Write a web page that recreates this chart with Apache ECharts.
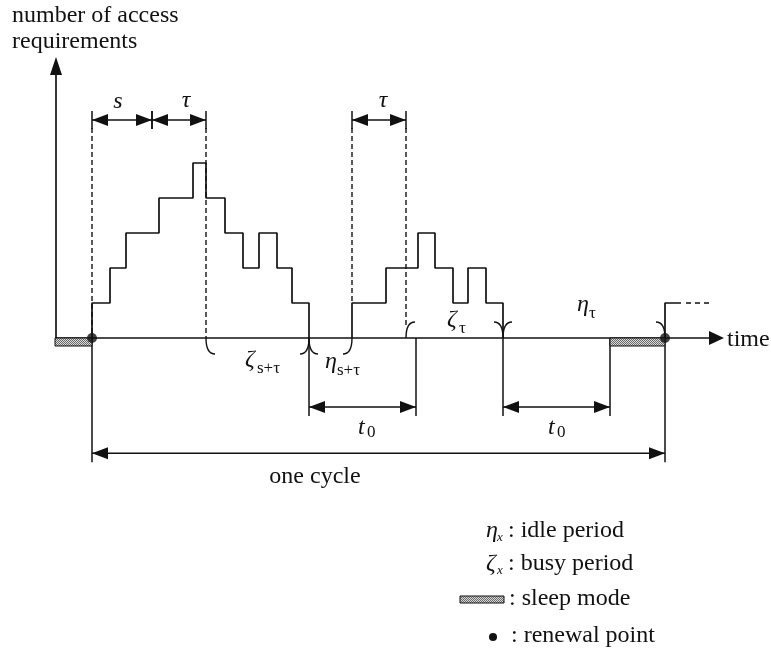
<!DOCTYPE html>
<html><head><meta charset="utf-8">
<script src="https://cdn.jsdelivr.net/npm/echarts@6.0.0/dist/echarts.min.js"></script>
<style>html,body{margin:0;padding:0;background:#fff;}#chart{width:771px;height:650px;}</style>
</head><body><div id="chart"></div>
<script>
// ---------------- data (time in arbitrary units, level = number of access requirements) ----------------
const busy1Time  = [0, 0, 18, 34, 67, 101, 114, 133, 151, 167, 185, 200, 217];
const busy1Level = [0, 1, 2, 3, 4, 5, 4, 3, 2, 3, 2, 1, 0];
const busy2Time  = [260, 260, 294, 326, 343, 361, 376, 394, 411];
const busy2Level = [0, 1, 2, 3, 2, 1, 2, 1, 0];
const nextTime   = [573, 573, 589];
const nextLevel  = [0, 1, 1];
const nextDashTime  = [594, 618];
const nextDashLevel = [1, 1];
const renewalTime = [0, 573];
const sleepStart  = [-37, 518];
const sleepEnd    = [0, 573];
const sTauMarks   = [[0, 60], [60, 114], [260, 314]];   // s, τ, τ
const t0Start     = [217, 411];
const t0End       = [324, 518];
const cycleBounds = [0, 573];
const periodStart = [114, 217, 314, 411];   // ζ_{s+τ}, η_{s+τ}, ζ_τ, η_τ
const periodEnd   = [217, 260, 411, 573];
const periodSide  = [-1, -1, 1, 1];          // -1 below axis, 1 above

// ---------------- view / annotation layout ----------------
const timeRange  = [-92, 679];
const levelRange = [-312 / 35, 338 / 35];
const AXIS_T0 = -37, AXIS_T1 = 632, YAXIS_T = -36, YAXIS_TOP = 8.03;
const DIM_LEVEL = 6.23, GUIDE_TOP = 6.0;
const T0_LEVEL = -1.97, CYCLE_LEVEL = -3.29;

const labelMain  = ['s', 'τ', 'τ', 'ζ', 'η', 'ζ', 'η', 't', 't', 'one cycle', 'time'];
const labelSub   = ['', '', '', 's+τ', 's+τ', 'τ', 'τ', '0', '0', '', ''];
const labelTime  = [26, 94, 291, 153, 233, 355, 485, 266, 456, 223, 635];
const labelLevel = [6.74, 6.77, 6.77, -0.63, -0.69, 0.51, 0.94, -2.57, -2.57, -3.97, -0.06];
const labelAlign = ['center','center','center','left','left','left','left','left','left','center','left'];

const FONT = '"Liberation Serif","Times New Roman",serif';
const INK = '#111';

// hatched pattern for sleep mode
const pat = document.createElement('canvas');
pat.width = 2; pat.height = 2;
(function(){const c = pat.getContext('2d'); c.fillStyle = '#d8d8d8'; c.fillRect(0,0,2,2); c.fillStyle = '#6a6a6a'; c.fillRect(0,0,1,1); c.fillRect(1,1,1,1);})();
const hatch = {image: pat, repeat: 'repeat'};

function seg(p, q, extra) {
  return {type: 'line', shape: {x1: p[0], y1: p[1], x2: q[0], y2: q[1]},
          style: Object.assign({stroke: INK, lineWidth: 1.5}, extra || {})};
}
function head(tip, from, len, half) {
  const dx = tip[0] - from[0], dy = tip[1] - from[1], d = Math.hypot(dx, dy);
  const ux = dx / d, uy = dy / d, bx = tip[0] - ux * len, by = tip[1] - uy * len;
  return {type: 'polygon', shape: {points: [tip, [bx - uy * half, by + ux * half], [bx + uy * half, by - ux * half]]},
          style: {fill: INK}};
}
function dblArrow(api, t1, t2, lv, ticks) {
  const a = api.coord([t1, lv]), b = api.coord([t2, lv]);
  const ch = [seg(a, b), head(a, b, 16, 6), head(b, a, 16, 6)];
  if (ticks) {
    ch.push(seg([a[0], a[1] - 9], [a[0], a[1] + 9]));
    ch.push(seg([b[0], b[1] - 9], [b[0], b[1] + 9]));
  }
  return {type: 'group', children: ch};
}

const chart = echarts.init(document.getElementById('chart'));
const stepStyle = {color: INK, width: 1.7};

chart.setOption({
  animation: false,
  backgroundColor: '#fff',
  grid: {left: 0, right: 0, top: 0, bottom: 0, containLabel: false},
  xAxis: {type: 'value', min: timeRange[0], max: timeRange[1], show: false},
  yAxis: {type: 'value', min: levelRange[0], max: levelRange[1], show: false},
  series: [
    {type: 'line', step: 'end', symbol: 'none', lineStyle: stepStyle, z: 5,
     data: busy1Time.map((t, i) => [t, busy1Level[i]])},
    {type: 'line', step: 'end', symbol: 'none', lineStyle: stepStyle, z: 5,
     data: busy2Time.map((t, i) => [t, busy2Level[i]])},
    {type: 'line', symbol: 'none', lineStyle: stepStyle, z: 5,
     data: nextTime.map((t, i) => [t, nextLevel[i]])},
    {type: 'line', symbol: 'none', lineStyle: {color: INK, width: 1.4, type: [5, 4]}, z: 5,
     data: nextDashTime.map((t, i) => [t, nextDashLevel[i]])},
    // axes
    {type: 'custom', z: 4, data: [[0, 0]], renderItem: function (params, api) {
      const y0 = api.coord([YAXIS_T, 0]), y1 = api.coord([YAXIS_T, YAXIS_TOP]);
      const x0 = api.coord([AXIS_T0, 0]), x1 = api.coord([AXIS_T1, 0]);
      return {type: 'group', children: [
        seg(y0, [y1[0], y1[1] + 10], {lineWidth: 1.7}), head(y1, y0, 18, 6),
        seg(x0, [x1[0] - 10, x1[1]], {lineWidth: 1.7}), head(x1, x0, 15, 7)
      ]};
    }},
    // sleep mode boxes
    {type: 'custom', z: 6, data: sleepStart.map((s, i) => [s, sleepEnd[i]]), renderItem: function (params, api) {
      const a = api.coord([api.value(0), 0]), b = api.coord([api.value(1), 0]);
      return {type: 'rect', shape: {x: a[0], y: a[1], width: b[0] - a[0], height: 8},
              style: {fill: hatch, stroke: INK, lineWidth: 1}};
    }},
    // renewal points
    {type: 'scatter', z: 8, symbol: 'circle', symbolSize: 10, itemStyle: {color: INK},
     data: renewalTime.map(t => [t, 0])},
    // s / τ dimension arrows
    {type: 'custom', z: 4, data: sTauMarks, renderItem: function (params, api) {
      return dblArrow(api, api.value(0), api.value(1), DIM_LEVEL, true);
    }},
    // dashed guide lines
    {type: 'custom', z: 3, data: [[0, 0], [114, 0], [260, 1], [314, 0.29]], renderItem: function (params, api) {
      const a = api.coord([api.value(0), GUIDE_TOP]), b = api.coord([api.value(0), api.value(1)]);
      return seg(a, b, {lineDash: [5, 3], lineWidth: 1.4});
    }},
    // t0 and one-cycle arrows with extension lines
    {type: 'custom', z: 4, data: t0Start.map((s, i) => [s, t0End[i], T0_LEVEL]).concat([[cycleBounds[0], cycleBounds[1], CYCLE_LEVEL]]),
     renderItem: function (params, api) {
      const t1 = api.value(0), t2 = api.value(1), lv = api.value(2);
      const g = dblArrow(api, t1, t2, lv, false);
      [t1, t2].forEach(t => {
        const top = api.coord([t, 0]), bot = api.coord([t, lv]);
        g.children.push(seg(top, [bot[0], bot[1] + 9]));
      });
      return g;
    }},
    // period braces
    {type: 'custom', z: 4, data: periodStart.map((s, i) => [s, periodEnd[i], periodSide[i]]), renderItem: function (params, api) {
      const a = api.coord([api.value(0), 0]), b = api.coord([api.value(1), 0]);
      const dy = -api.value(2) * 16, w = 9;
      const st = {stroke: INK, lineWidth: 1.4, fill: null};
      return {type: 'group', children: [
        {type: 'bezierCurve', shape: {x1: a[0], y1: a[1], cpx1: a[0], cpy1: a[1] + dy, x2: a[0] + w, y2: a[1] + dy}, style: st},
        {type: 'bezierCurve', shape: {x1: b[0] - w, y1: b[1] + dy, cpx1: b[0], cpy1: b[1] + dy, x2: b[0], y2: b[1]}, style: st}
      ]};
    }},
    // labels
    {type: 'custom', z: 9, data: labelTime.map((t, i) => [t, labelLevel[i]]), renderItem: function (params, api) {
      const i = params.dataIndex;
      const p = api.coord([api.value(0), api.value(1)]);
      const italic = i < 9;
      const ch = [{type: 'text', x: p[0], y: p[1], style: {text: labelMain[i], fontSize: 24, fontFamily: FONT,
        fontStyle: italic ? 'italic' : 'normal', fill: INK, align: labelAlign[i], verticalAlign: 'middle'}}];
      if (labelSub[i]) {
        const dx = labelMain[i] === 't' ? 9 : 12, dy = labelMain[i] === 't' ? 5 : 8;
        ch.push({type: 'text', x: p[0] + dx, y: p[1] + dy, style: {text: labelSub[i], fontSize: 17, fontFamily: FONT,
          fill: INK, align: 'left', verticalAlign: 'middle'}});
      }
      return {type: 'group', children: ch};
    }}
  ],
  graphic: [
    {type: 'text', left: 12, top: 4, style: {text: 'number of access', fontSize: 24, fontFamily: FONT, fill: INK}},
    {type: 'text', left: 12, top: 30, style: {text: 'requirements', fontSize: 24, fontFamily: FONT, fill: INK}},
    // legend
    {type: 'text', x: 486, y: 531, style: {text: 'η', fontSize: 24, fontStyle: 'italic', fontFamily: FONT, fill: INK, verticalAlign: 'middle'}},
    {type: 'text', x: 497, y: 538, style: {text: 'x', fontSize: 13, fontStyle: 'italic', fontFamily: FONT, fill: INK, verticalAlign: 'middle'}},
    {type: 'text', x: 508, y: 531, style: {text: ': idle period', fontSize: 24, fontFamily: FONT, fill: INK, verticalAlign: 'middle'}},
    {type: 'text', x: 486, y: 564, style: {text: 'ζ', fontSize: 24, fontStyle: 'italic', fontFamily: FONT, fill: INK, verticalAlign: 'middle'}},
    {type: 'text', x: 497, y: 571, style: {text: 'x', fontSize: 13, fontStyle: 'italic', fontFamily: FONT, fill: INK, verticalAlign: 'middle'}},
    {type: 'text', x: 508, y: 564, style: {text: ': busy period', fontSize: 24, fontFamily: FONT, fill: INK, verticalAlign: 'middle'}},
    {type: 'rect', shape: {x: 460, y: 596, width: 44, height: 7}, style: {fill: hatch, stroke: INK, lineWidth: 1}},
    {type: 'text', x: 509, y: 599, style: {text: ': sleep mode', fontSize: 24, fontFamily: FONT, fill: INK, verticalAlign: 'middle'}},
    {type: 'circle', shape: {cx: 493, cy: 637, r: 4}, style: {fill: INK}},
    {type: 'text', x: 511, y: 636, style: {text: ': renewal point', fontSize: 24, fontFamily: FONT, fill: INK, verticalAlign: 'middle'}}
  ]
});
</script>
</body></html>
